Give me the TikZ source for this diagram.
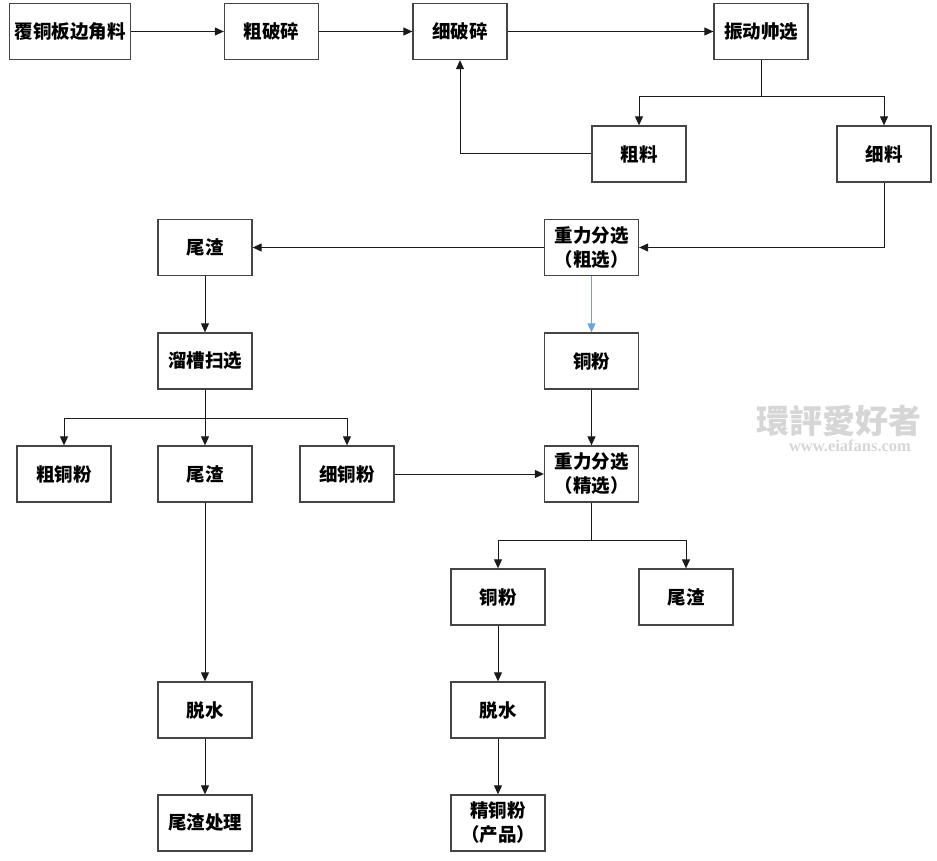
\documentclass[tikz,border=0pt]{standalone}
\usepackage{fontspec}
\setmainfont{Noto Sans CJK SC}
\newfontfamily\wmcjk{Noto Sans CJK TC}
\newfontfamily\wmlat{Liberation Serif}
\usetikzlibrary{arrows.meta}
\definecolor{boxline}{HTML}{454545}
\definecolor{conn}{HTML}{1A1A1A}
\definecolor{blueconn}{HTML}{6FA3D6}
\definecolor{wm}{HTML}{D6D6D6}
\begin{document}
\begin{tikzpicture}[x=1pt,y=-1pt,
  box/.style={draw=boxline,line width=1.3pt,fill=white,minimum width=94pt,minimum height=56pt,
    inner sep=0pt,align=center,font=\fontsize{18.5}{24}\selectfont\bfseries},
  wide/.style={minimum width=121pt},
  arr/.style={draw=conn,line width=1pt,-{Triangle[length=9pt,width=8pt]}},
  ln/.style={draw=conn,line width=1pt}]
\useasboundingbox (0,0) rectangle (937,861);
% nodes
\node[box,wide] (A) at (70,31.5) {覆铜板边角料};
\node[box] (B) at (271.5,31.5) {粗破碎};
\node[box] (C) at (460,31.5) {细破碎};
\node[box] (D) at (761,31.5) {振动帅选};
\node[box] (E) at (639,154) {粗料};
\node[box] (F) at (884,154) {细料};
\node[box] (G) at (591.5,247.5) {重力分选\\（粗选）};
\node[box] (H) at (205,247.5) {尾渣};
\node[box] (I) at (591.5,361) {铜粉};
\node[box] (J) at (205,361) {溜槽扫选};
\node[box] (K) at (64,474) {粗铜粉};
\node[box] (L) at (205,474) {尾渣};
\node[box] (M) at (347,474) {细铜粉};
\node[box] (N) at (591.5,474) {重力分选\\（精选）};
\node[box] (O) at (498,597) {铜粉};
\node[box] (P) at (686,597) {尾渣};
\node[box] (Q) at (498,710) {脱水};
\node[box] (R) at (498,823) {精铜粉\\（产品）};
\node[box] (S) at (205,710) {脱水};
\node[box] (T) at (205,823) {尾渣处理};
% junction coordinates
\coordinate (d1) at (761,97);
\coordinate (e1) at (460,154);
\coordinate (f1) at (884,247.5);
\coordinate (j1) at (205,418);
\coordinate (n1) at (591.5,540);
% connectors
\draw[arr] (A) -- (B);
\draw[arr] (B) -- (C);
\draw[arr] (C) -- (D);
\draw[ln] (D.south) -- (d1);
\draw[arr] (d1) -| (E.north);
\draw[arr] (d1) -| (F.north);
\draw[arr] (E.west) -- (e1) -- (C.south);
\draw[arr] (F.south) -- (f1) -- (G.east);
\draw[arr] (G) -- (H);
\draw[arr,draw=blueconn,-{Triangle[length=9pt,width=8pt,fill=blueconn]}] (G) -- (I);
\draw[arr] (H) -- (J);
\draw[arr] (I) -- (N);
\draw[ln] (J.south) -- (j1);
\draw[arr] (j1) -| (K.north);
\draw[arr] (j1) -- (L.north);
\draw[arr] (j1) -| (M.north);
\draw[arr] (M) -- (N);
\draw[ln] (N.south) -- (n1);
\draw[arr] (n1) -| (O.north);
\draw[arr] (n1) -| (P.north);
\draw[arr] (O) -- (Q);
\draw[arr] (Q) -- (R);
\draw[arr] (L) -- (S);
\draw[arr] (S) -- (T);
% watermark
\node[text=wm,inner sep=0pt,font=\wmcjk\bfseries\fontsize{33}{33}\selectfont] (W1) at (839,421) {環評愛好者};
\node[text=wm,inner sep=0pt,font=\wmlat\bfseries\fontsize{16.5}{16.5}\selectfont] (W2) at (850,446) {www.eiafans.com};
\end{tikzpicture}
\end{document}
